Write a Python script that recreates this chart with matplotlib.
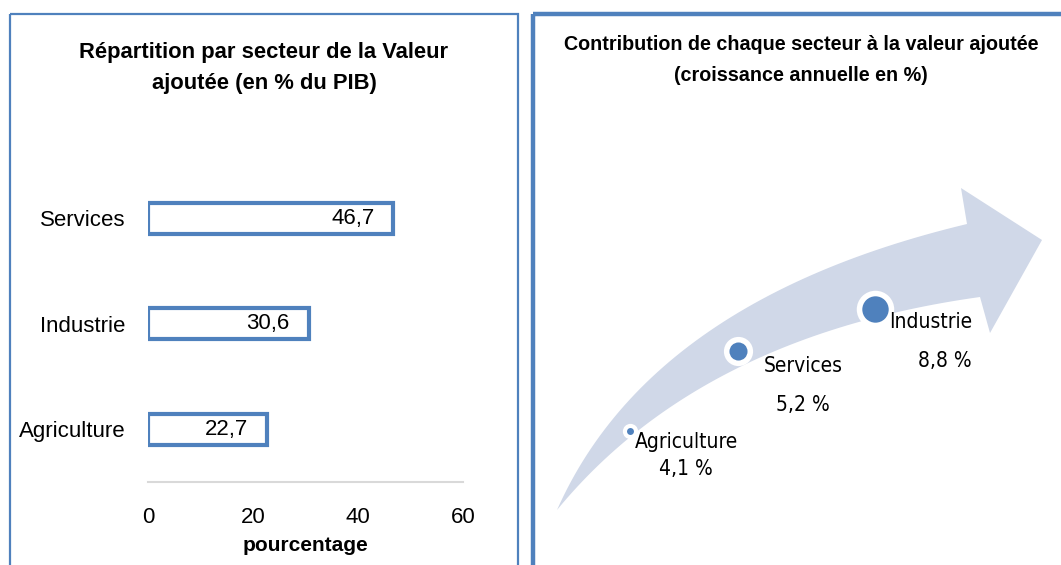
import numpy as np
import matplotlib
matplotlib.use("Agg")
import matplotlib.pyplot as plt
from matplotlib.patches import Polygon, Rectangle

# left chart data
secteurs = ["Agriculture", "Industrie", "Services"]
part_pib = [22.7, 30.6, 46.7]
x_ticks = [0, 20, 40, 60]

# right infographic data
secteurs_croissance = ["Agriculture", "Services", "Industrie"]
croissance = [4.1, 5.2, 8.8]

bleu = "#4F81BD"
fond_fleche = "#D0D8E8"
sans = ["Liberation Sans", "DejaVu Sans"]

W, H = 1061, 565
fig = plt.figure(figsize=(W / 100, H / 100), dpi=100)

# background axes in pixel coordinates (borders + arrow)
bg = fig.add_axes([0, 0, 1, 1], zorder=0)
bg.set_xlim(0, W)
bg.set_ylim(H, 0)
bg.axis("off")

bg.add_patch(Rectangle((9.5, 14), 508, 600, fill=False, ec=bleu, lw=1.6))
bg.add_patch(Rectangle((533, 14), 600, 600, fill=False, ec=bleu, lw=3.2))

# curved arrow (quadratic bezier edges)
def bez(p0, p1, p2, n=60):
    t = np.linspace(0, 1, n)[:, None]
    return (1 - t) ** 2 * np.array(p0) + 2 * (1 - t) * t * np.array(p1) + t ** 2 * np.array(p2)

tail = (557, 510)
haut = bez(tail, (650, 300), (967, 224))
bas = bez(tail, (700, 336), (980, 297))
tete = np.array([(961, 188), (1042, 240), (990, 333)])
contour = np.vstack([haut, tete, bas[::-1]])
bg.add_patch(Polygon(contour, closed=True, fc=fond_fleche, ec="none"))

# dots placed along the lower edge of the arrow
t_pos = [0.23, 0.51, 0.80]
decal = [6, 17, 9]
taille_point = [5, 13, 19]
taille_anneau = [11, 21, 27]
bas_fin = bez(tail, (700, 336), (980, 297), n=1001)
for i, v in enumerate(croissance):
    p = bas_fin[int(t_pos[i] * 1000)]
    bg.plot(p[0] + (2 if i == 2 else 0), p[1] - decal[i], "o", ms=taille_anneau[i], mfc="white", mec="none")
    bg.plot(p[0] + (2 if i == 2 else 0), p[1] - decal[i], "o", ms=taille_point[i], mfc=bleu, mec="none")

lab_pos = [(686, 442, 469, "center"), (803, 366, 405, "center"), (972, 322, 361, "right")]
for i, nom in enumerate(secteurs_croissance):
    x, y1, y2, ha = lab_pos[i]
    val = f"{croissance[i]:.1f} %".replace(".", ",")
    bg.text(x, y1, nom, ha=ha, va="center", fontsize=15, family="DejaVu Sans", fontstretch="condensed")
    bg.text(x, y2, val, ha=ha, va="center", fontsize=15, family="DejaVu Sans", fontstretch="condensed")

bg.text(801, 60, "Contribution de chaque secteur à la valeur ajoutée\n(croissance annuelle en %)",
        ha="center", va="center", fontsize=14.2, family=sans, fontweight="bold", linespacing=1.8)
bg.text(264, 68, "Répartition par secteur de la Valeur\najoutée (en % du PIB)",
        ha="center", va="center", fontsize=15.8, family=sans, fontweight="bold", linespacing=1.65)

# left bar chart
ax = fig.add_axes([148 / W, 1 - 482 / H, 315 / W, 316.5 / H], zorder=1)
ax.patch.set_visible(False)
ax.barh(range(len(secteurs)), part_pib, height=0.29, color="white", edgecolor=bleu, linewidth=3)
for i, v in enumerate(part_pib):
    ax.text(v - 3.6, i, f"{v:.1f}".replace(".", ","), ha="right", va="center", fontsize=16, family=sans)
ax.set_xlim(0, 60)
ax.set_ylim(-0.5, 2.5)
ax.set_xticks(x_ticks)
ax.set_yticks(range(len(secteurs)))
ax.set_yticklabels(secteurs, fontsize=16, family=sans)
for lab in ax.get_xticklabels():
    lab.set_fontsize(16)
    lab.set_family(sans)
ax.tick_params(length=0)
ax.tick_params(axis="x", pad=18)
ax.tick_params(axis="y", pad=16)
for s in ["top", "right", "left"]:
    ax.spines[s].set_visible(False)
ax.spines["bottom"].set_color("#D9D9D9")
ax.spines["bottom"].set_linewidth(1.5)
ax.set_xlabel("pourcentage", fontsize=15, fontweight="bold", family=sans, labelpad=6)

fig.savefig("out.png", dpi=100)
